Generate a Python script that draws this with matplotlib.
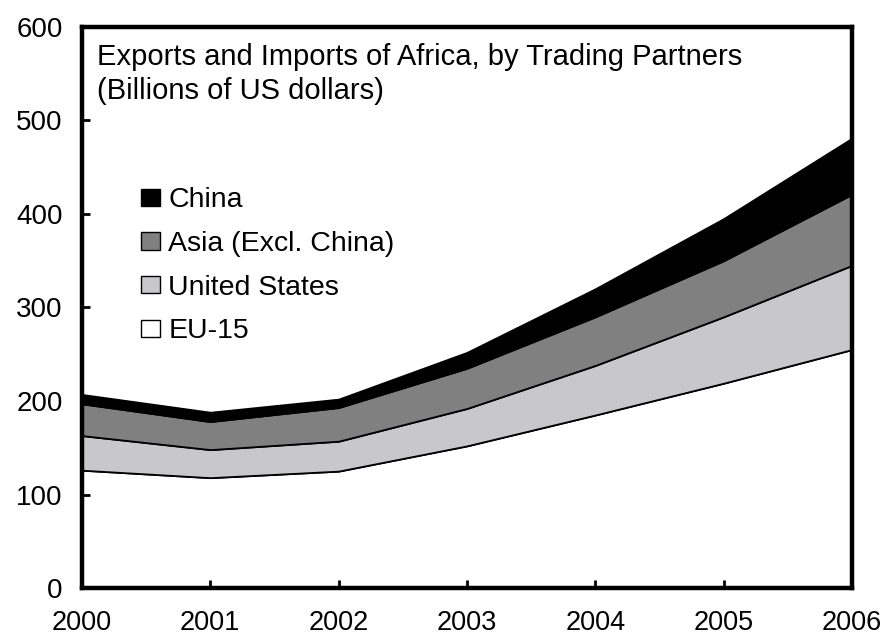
import matplotlib
matplotlib.use("Agg")
import matplotlib.pyplot as plt
import numpy as np
from matplotlib.patches import Patch

plt.rcParams['font.family'] = ['Liberation Sans', 'DejaVu Sans']

years = [2000, 2001, 2002, 2003, 2004, 2005, 2006]
eu15 = [126, 118, 125, 152, 185, 219, 255]
united_states = [37, 30, 32, 40, 53, 71, 90]
asia_excl_china = [34, 30, 36, 43, 52, 60, 76]
china = [10, 10, 9, 17, 30, 45, 60]

labels = ["EU-15", "United States", "Asia (Excl. China)", "China"]
colors = ["#ffffff", "#c8c7cb", "#808080", "#000000"]

fig = plt.figure(figsize=(8.87, 6.39), dpi=100)
ax = fig.add_axes([0.0924, 0.0798, 0.868, 0.878])

polys = ax.stackplot(years, eu15, united_states, asia_excl_china, china,
                     colors=colors, edgecolor="black", linewidth=1.3)

ax.set_xlim(2000, 2006)
ax.set_ylim(0, 600)
ax.set_xticks(years)
ax.set_yticks(range(0, 601, 100))
for s in ax.spines.values():
    s.set_linewidth(3.2)
ax.tick_params(axis='both', direction='in', length=6, width=2, labelsize=20)
ax.tick_params(axis='x', pad=16, labelsize=19.5)
ax.tick_params(axis='y', pad=14)

ax.text(0.019, 0.972, "Exports and Imports of Africa, by Trading Partners\n(Billions of US dollars)",
        transform=ax.transAxes, fontsize=21, va='top', ha='left', linespacing=1.3)

handles = [Patch(facecolor=c, edgecolor='black', linewidth=1.0) for c in colors]
leg = ax.legend(handles[::-1], labels[::-1], loc='upper left', bbox_to_anchor=(0.077, 0.714),
                frameon=False, fontsize=20.5, handlelength=0.65, handleheight=0.55,
                handletextpad=0.3, labelspacing=0.62, borderaxespad=0, borderpad=0)

fig.savefig("out.png", dpi=100)
